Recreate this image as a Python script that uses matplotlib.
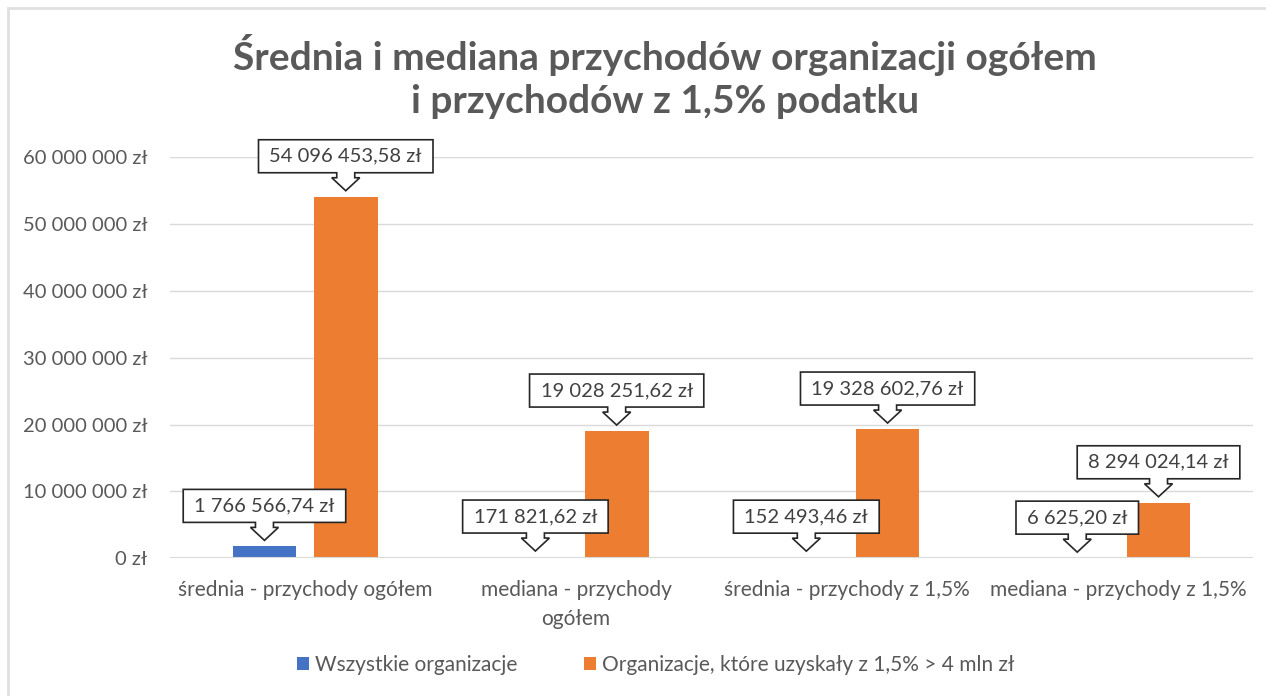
import numpy as np
import matplotlib.pyplot as plt
from matplotlib.patches import Polygon
import matplotlib.transforms as mtransforms
from matplotlib.lines import Line2D

plt.rcParams['font.family'] = ['Lato', 'DejaVu Sans']

categories = ["średnia - przychody ogółem", "mediana - przychody\nogółem",
              "średnia - przychody z 1,5%", "mediana - przychody z 1,5%"]
all_orgs = [1766566.74, 171821.62, 152493.46, 6625.20]
big_orgs = [54096453.58, 19028251.62, 19328602.76, 8294024.14]
series_names = ["Wszystkie organizacje", "Organizacje, które uzyskały z 1,5% > 4 mln zł"]
yticks = [0, 10000000, 20000000, 30000000, 40000000, 50000000, 60000000]

blue = "#4472C4"
orange = "#ED7D31"
grey = "#595959"


def zl(v, dec=True):
    s = f"{v:,.2f}" if dec else f"{v:,.0f}"
    s = s.replace(",", " ").replace(".", ",")
    return s + " zł"


fig = plt.figure(figsize=(12.66, 6.96), dpi=100)
ax = fig.add_axes([0.134, 0.198, 0.856, 0.576])

x = np.arange(len(categories))
w = 0.235
off = 0.15
ax.bar(x - off, all_orgs, w, color=blue, label=series_names[0], zorder=2)
ax.bar(x + off, big_orgs, w, color=orange, label=series_names[1], zorder=2)

ax.set_xlim(-0.5, 3.5)
ax.set_ylim(0, 60000000)
ax.set_yticks(yticks)
ax.set_yticklabels([zl(v, False) for v in yticks], fontsize=14.5, color=grey)
ax.set_xticks(x)
ax.set_xticklabels(categories, fontsize=15, color=grey, linespacing=1.55)
ax.tick_params(length=0, pad=16, axis='y')
ax.tick_params(length=0, pad=16, axis='x')
ax.grid(axis='y', color="#D9D9D9", linewidth=1, zorder=0)
for s in ax.spines.values():
    s.set_visible(False)
ax.axhline(0, color="#D9D9D9", linewidth=1.5, zorder=3)

fig.text(0.525, 0.89, "Średnia i mediana przychodów organizacji ogółem\ni przychodów z 1,5% podatku",
         ha='center', va='center', fontsize=28, fontweight='bold', color=grey, linespacing=1.3)

leg = fig.legend(loc='center', bbox_to_anchor=(0.518, 0.045), ncol=2, frameon=False,
                 fontsize=15, handlelength=0.55, handleheight=0.55, handletextpad=0.3,
                 columnspacing=3.2)
for t in leg.get_texts():
    t.set_color(grey)

# figure border (top and left only visible)
fig.add_artist(Line2D([8 / 1266, 1.0], [1 - 8 / 696, 1 - 8 / 696], color="#E0E0E0", lw=2))
fig.add_artist(Line2D([8 / 1266, 8 / 1266], [0, 1 - 8 / 696], color="#E0E0E0", lw=2))

# callouts
gap, head_h, stem_h, box_h = 6, 13, 5, 33
head_w, stem_w = 14, 9
texts = []
points = []
for xs, vals in [(x - off, all_orgs), (x + off, big_orgs)]:
    for xi, v in zip(xs, vals):
        base = gap + head_h + stem_h
        t = ax.annotate(zl(v), xy=(xi, v), xytext=(0, base + box_h / 2),
                        textcoords='offset pixels', ha='center', va='center',
                        fontsize=14.5, color="#404040", zorder=6, annotation_clip=False)
        texts.append(t)
        points.append((xi, v))

fig.canvas.draw()
r = fig.canvas.get_renderer()
for t, (xi, v) in zip(texts, points):
    hw = t.get_window_extent(r).width / 2 + 11
    y0 = gap
    y1 = gap + head_h
    y2 = gap + head_h + stem_h
    y3 = y2 + box_h
    verts = [(0, y0), (head_w, y1), (stem_w, y1), (stem_w, y2), (hw, y2), (hw, y3),
             (-hw, y3), (-hw, y2), (-stem_w, y2), (-stem_w, y1), (-head_w, y1)]
    tr = mtransforms.Affine2D() + mtransforms.ScaledTranslation(xi, v, ax.transData)
    p = Polygon(verts, closed=True, facecolor='white', edgecolor='#262626', lw=1.2,
                transform=tr, zorder=5, clip_on=False)
    ax.add_patch(p)

fig.savefig("out.png", dpi=100, facecolor='white')
